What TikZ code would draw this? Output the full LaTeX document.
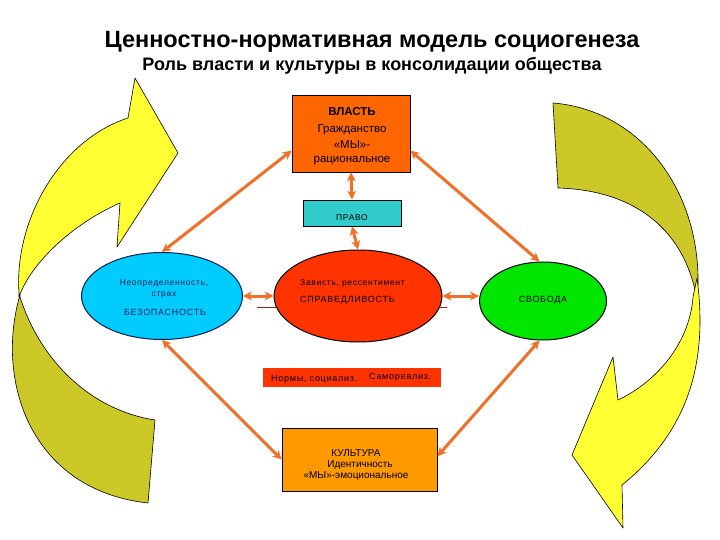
\documentclass[tikz,border=0pt]{standalone}
\usepackage{fontspec}
\setmainfont{Liberation Sans}
\newfontfamily\spaced[LetterSpace=8]{Liberation Sans}
\usetikzlibrary{arrows.meta,shapes.geometric,calc}
\definecolor{yel}{RGB}{255,255,51}
\definecolor{oli}{RGB}{204,200,40}
\definecolor{arrc}{RGB}{240,112,40}
\definecolor{vlastc}{RGB}{255,102,0}
\definecolor{pravoc}{RGB}{51,204,204}
\definecolor{bluec}{RGB}{0,204,255}
\definecolor{redc}{RGB}{255,51,0}
\definecolor{greenc}{RGB}{0,230,0}
\definecolor{kultc}{RGB}{255,153,0}
\definecolor{linec}{RGB}{140,40,20}
\definecolor{navy}{RGB}{0,30,80}
\begin{document}
\begin{tikzpicture}[x=1pt,y=-1pt,
  band/.style={draw=black, line width=0.6pt, line join=round},
  boxnode/.style={rectangle, draw=black, line width=0.8pt, inner sep=0pt},
  ell/.style={ellipse, line width=1pt, inner sep=0pt},
  conn/.style={draw=arrc, line width=3pt, {Stealth[length=9pt,width=9pt]}-{Stealth[length=9pt,width=9pt]}},
  txt/.style={inner sep=0pt, anchor=base},
  txtw/.style={inner sep=0pt, anchor=base west}]
\useasboundingbox (0,0) rectangle (720,540);

% title
\node[txt, font=\fontsize{23.5}{26}\selectfont\bfseries] (title) at (372,48) {Ценностно-нормативная модель социогенеза};
\node[txt, font=\fontsize{18}{20}\selectfont\bfseries] (subtitle) at (372,71) {Роль власти и культуры в консолидации общества};

% left curved arrow
\path[band, fill=oli] (20,295) .. controls (-5,380) and (30,490) .. (148,503)
  -- (155,420) .. controls (90,410) and (40,360) .. (20,297) -- cycle;
\path[band, fill=yel] (19,293) .. controls (14,220) and (60,140) .. (128,118)
  -- (135,78) -- (178,153) -- (117,247) -- (120,203)
  .. controls (70,225) and (30,265) .. (19,297) -- cycle;

% right curved arrow
\path[band, fill=oli] (553,103) .. controls (640,110) and (700,190) .. (698,285)
  -- (695,290) .. controls (680,225) and (630,190) .. (558,188) -- cycle;
\path[band, fill=yel] (697,278) .. controls (708,360) and (690,430) .. (622,485)
  -- (623,528) -- (572,455) -- (613,357) -- (618,400)
  .. controls (660,380) and (690,340) .. (693,297) -- cycle;

% thin line behind central ellipse
\draw[linec, line width=0.6pt] (257,307) -- (447,307);

% nodes
\node[boxnode, fill=vlastc, minimum width=118pt, minimum height=77pt] (vlast) at (351,133.5) {};
\node[boxnode, fill=pravoc, minimum width=98pt, minimum height=26pt] (pravo) at (352,213) {};
\node[ell, draw=navy, fill=bluec, minimum width=161pt, minimum height=87pt] (bez) at (162,296) {};
\node[ell, draw=black, fill=redc, minimum width=168pt, minimum height=92pt] (sprav) at (358,296) {};
\node[ell, draw=black, fill=greenc, minimum width=127pt, minimum height=78pt] (svob) at (543,301) {};
\node[rectangle, fill=redc, inner sep=0pt, minimum width=178pt, minimum height=19pt] (norm) at (352,377.5) {};
\node[boxnode, fill=kultc, minimum width=155pt, minimum height=63pt] (kult) at (359.5,459.5) {};

% texts
\node[txt, font=\fontsize{11.5}{12}\selectfont\bfseries] (t1) at (352,116) {ВЛАСТЬ};
\node[txt, font=\fontsize{11.5}{12}\selectfont] (t2) at (352,133) {Гражданство};
\node[txt, font=\fontsize{11.5}{12}\selectfont] (t3) at (352,149) {«МЫ»-};
\node[txt, font=\fontsize{11.5}{12}\selectfont] (t4) at (352,163) {рациональное};
\node[txt, font=\fontsize{8.5}{10}\selectfont\spaced] (t5) at (352,221) {ПРАВО};
\node[txt, font=\fontsize{8.5}{10}\selectfont\spaced, text=navy] (t6) at (164,285) {Неопределенность,};
\node[txt, font=\fontsize{8.5}{10}\selectfont\spaced, text=navy] (t7) at (164,296) {страх};
\node[txt, font=\fontsize{9}{10}\selectfont\spaced, text=navy] (t8) at (165,315) {БЕЗОПАСНОСТЬ};
\node[txtw, font=\fontsize{8.5}{10}\selectfont\spaced] (t9) at (300,285) {Зависть, рессентимент};
\node[txtw, font=\fontsize{9}{10}\selectfont\spaced] (t10) at (300,302) {СПРАВЕДЛИВОСТЬ};
\node[txt, font=\fontsize{9}{10}\selectfont\spaced] (t11) at (543,302) {СВОБОДА};
\node[txtw, font=\fontsize{9}{10}\selectfont\spaced] (t12) at (271,381) {Нормы, социализ.};
\node[txtw, font=\fontsize{9}{10}\selectfont\spaced] (t13) at (369,379) {Самореализ.};
\node[txt, font=\fontsize{10}{11}\selectfont] (t14) at (356,456) {КУЛЬТУРА};
\node[txt, font=\fontsize{10}{11}\selectfont] (t15) at (360,467) {Идентичность};
\node[txt, font=\fontsize{10}{11}\selectfont] (t16) at (356,478) {«МЫ»-эмоциональное};

% connectors
\draw[conn] (vlast.south) -- (pravo.north);
\draw[conn] (pravo.south) -- (sprav.north);
\draw[conn] (bez.east) -- (sprav.west);
\draw[conn] (sprav.east) -- (sprav.east -| svob.west);
\draw[conn] ($(vlast.south west)!0.28!(vlast.north west)$) -- (bez.north);
\draw[conn] ($(vlast.south east)!0.28!(vlast.north east)$) -- (svob.95);
\draw[conn] (kult.west) -- (bez.south);
\draw[conn] ($(kult.east)!0.1!(kult.north east)$) -- (svob.265);
\end{tikzpicture}
\end{document}
